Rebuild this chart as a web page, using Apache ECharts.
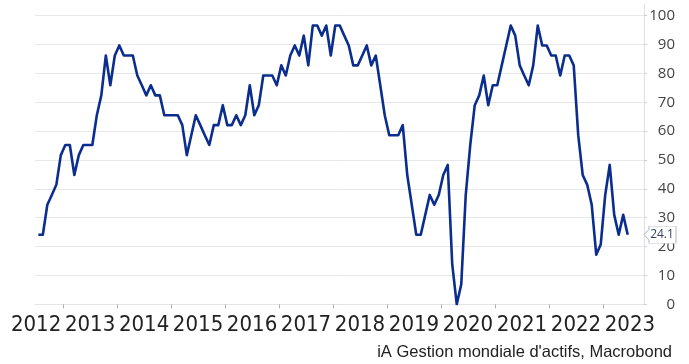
<!DOCTYPE html>
<html>
<head>
<meta charset="utf-8">
<script src="https://cdn.jsdelivr.net/npm/echarts@6.0.0/dist/echarts.min.js"></script>
<style>
html,body{margin:0;padding:0;background:#fff;}
#chart{width:689px;height:364px;}
</style>
</head>
<body>
<div id="chart"></div>
<script>
// Monthly series, July 2012 to June 2023
const startYear = 2012;
const startMonth = 7;
const values = [
  24.1, 24.1, 34.5, 37.9, 41.4, 51.7, 55.2, 55.2, 44.8, 51.7, 55.2, 55.2, 55.2, 65.5, 72.4, 86.2, 75.9, 86.2, 89.7, 86.2, 86.2, 86.2,
  79.3, 75.9, 72.4, 75.9, 72.4, 72.4, 65.5, 65.5, 65.5, 65.5, 62.1, 51.7, 58.6, 65.5, 62.1, 58.6, 55.2, 62.1, 62.1, 69.0, 62.1, 62.1,
  65.5, 62.1, 65.5, 75.9, 65.5, 69.0, 79.3, 79.3, 79.3, 75.9, 82.8, 79.3, 86.2, 89.7, 86.2, 93.1, 82.8, 96.6, 96.6, 93.1, 96.6, 86.2,
  96.6, 96.6, 93.1, 89.7, 82.8, 82.8, 86.2, 89.7, 82.8, 86.2, 75.9, 65.5, 58.6, 58.6, 58.6, 62.1, 44.8, 34.5, 24.1, 24.1, 31.0, 37.9, 34.5,
  37.9, 44.8, 48.3, 13.8, 0.0, 6.9, 37.9, 55.2, 69.0, 72.4, 79.3, 69.0, 75.9, 75.9, 82.8, 89.7, 96.6, 93.1, 82.8, 79.3, 75.9,
  82.8, 96.6, 89.7, 89.7, 86.2, 86.2, 79.3, 86.2, 86.2, 82.8, 58.6, 44.8, 41.4, 34.5, 17.2, 20.7, 37.9, 48.3, 31.0, 24.1, 31.0, 24.1
];
const yearLabels = ['2012','2013','2014','2015','2016','2017','2018','2019','2020','2021','2022','2023'];
const yTickValues = [0,10,20,30,40,50,60,70,80,90,100];
const sourceText = "iA Gestion mondiale d'actifs, Macrobond";

// month index -> decimal year at mid-month
const seriesData = values.map((v, i) => {
  const m = startMonth - 1 + i;
  const yr = startYear + Math.floor(m / 12);
  const mo = m % 12;
  return [yr + (mo + 0.5) / 12, v];
});
const yearBoundaries = yearLabels.slice(1).map(y => Number(y));
const yearMids = yearLabels.map(y => Number(y) + 0.5);
const xMin = 2012.48, xMax = 2023.76;
const lastValue = values[values.length - 1];

const chart = echarts.init(document.getElementById('chart'), null, {renderer: 'canvas'});
chart.setOption({
  animation: false,
  backgroundColor: '#ffffff',
  title: {
    text: sourceText,
    right: 12,
    bottom: -2,
    textStyle: {fontFamily: 'Liberation Sans', fontSize: 16.5, fontWeight: 'normal', color: '#222'}
  },
  grid: {left: 35, right: 45, top: 4.2, bottom: 59.7, containLabel: false},
  xAxis: {
    type: 'value',
    min: xMin,
    max: xMax,
    axisLine: {show: true, lineStyle: {color: '#e4e4e4', width: 1}},
    axisTick: {show: true, customValues: yearBoundaries, length: 4, lineStyle: {color: '#b0b0b0'}},
    splitLine: {show: false},
    axisLabel: {
      show: true,
      customValues: yearMids,
      showMinLabel: true,
      showMaxLabel: true,
      hideOverlap: false,
      formatter: v => String(Math.floor(v)),
      margin: 10,
      fontFamily: '"DejaVu Sans Condensed", "DejaVu Sans", sans-serif',
      fontSize: 22,
      color: '#222'
    }
  },
  yAxis: {
    type: 'value',
    position: 'right',
    min: 0,
    max: 104,
    interval: 10,
    axisLine: {show: true, lineStyle: {color: '#e0e0e0'}},
    axisTick: {show: true, customValues: yTickValues, length: 3, lineStyle: {color: '#d0d0d0'}},
    splitLine: {show: true, lineStyle: {color: ['#e8e8e8','#e8e8e8','#e8e8e8','#e8e8e8','#e8e8e8','#e8e8e8','#e8e8e8','#e8e8e8','#e8e8e8','#e8e8e8','#e8e8e8','rgba(0,0,0,0)'], width: 1}},
    axisLabel: {
      show: true,
      customValues: yTickValues,
      align: 'right',
      margin: 31,
      fontFamily: '"Open Sans", sans-serif',
      fontSize: 15,
      color: '#444'
    }
  },
  series: [{
    type: 'line',
    data: seriesData,
    showSymbol: false,
    symbol: 'none',
    smooth: false,
    lineStyle: {color: '#0b2d8e', width: 2.6, join: 'round'},
    itemStyle: {color: '#0b2d8e'},
    markPoint: {
      symbol: 'path://M0,8 L5,3 L5,0 L32,0 L32,16 L5,16 L5,13 Z',
      symbolKeepAspect: false,
      symbolSize: [32, 17],
      symbolOffset: [16, 0],
      itemStyle: {color: '#ffffff', borderColor: '#c5cad4', borderWidth: 1},
      label: {
        show: true,
        position: 'inside',
        offset: [2, 0],
        formatter: p => p.value.toFixed(1),
        fontFamily: '"Open Sans", sans-serif',
        fontSize: 12,
        color: '#34456b'
      },
      data: [{coord: [xMax, lastValue], value: lastValue}]
    }
  }]
});
</script>
</body>
</html>
